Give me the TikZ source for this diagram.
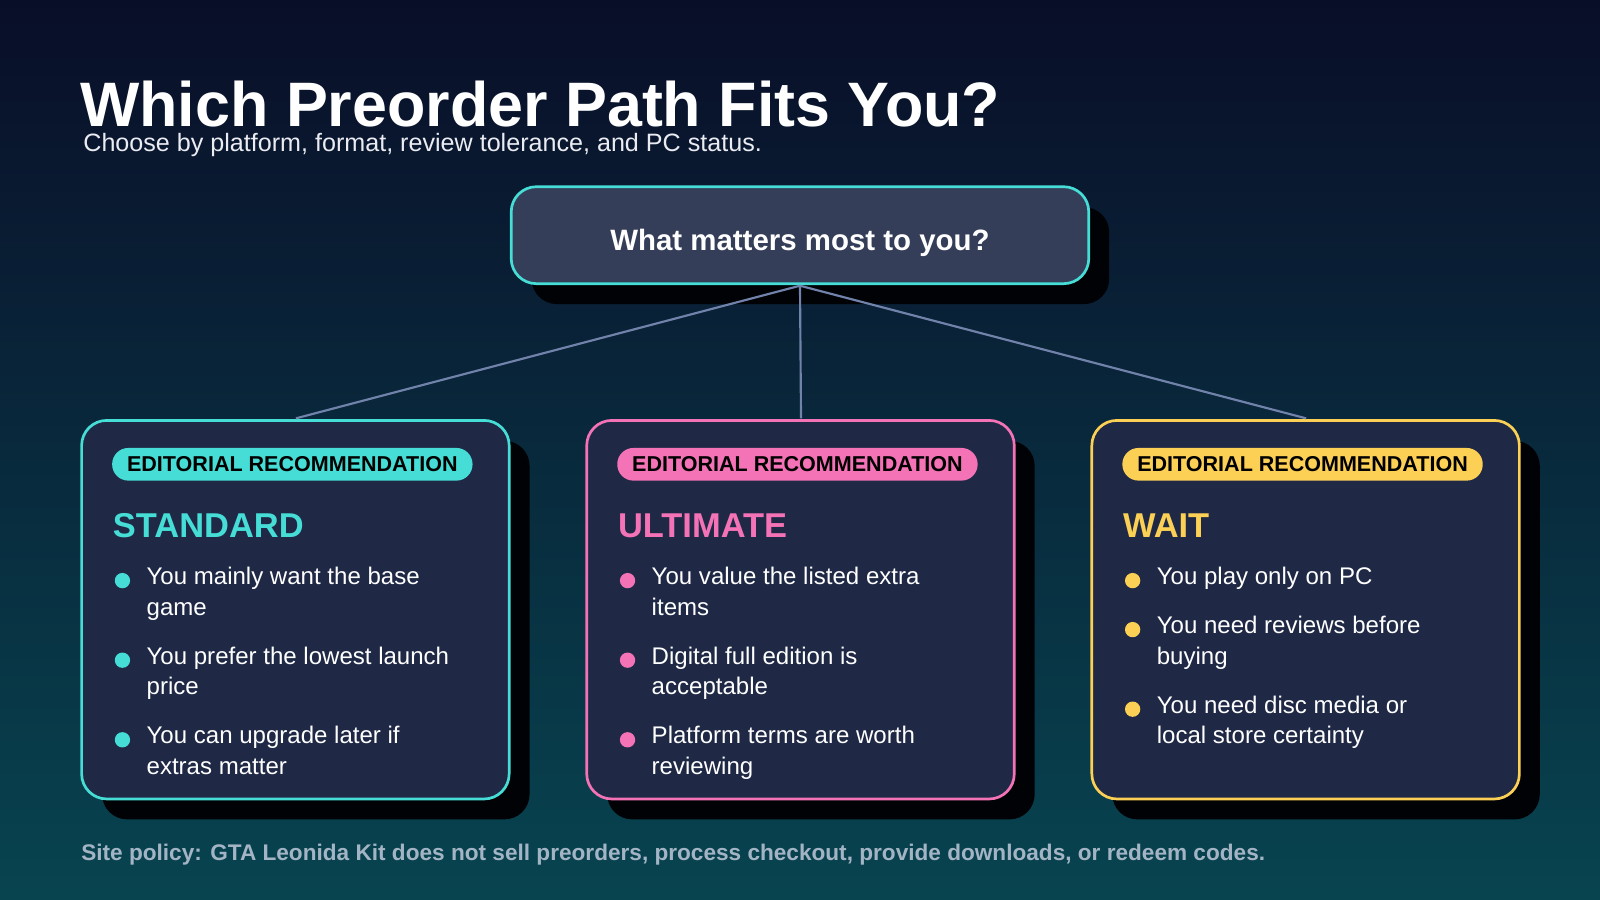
\documentclass[tikz,border=0pt]{standalone}
\usepackage{fontspec}
\setmainfont{Liberation Sans}
\usetikzlibrary{positioning}
\definecolor{bgtop}{HTML}{090E28}
\definecolor{bgbot}{HTML}{084450}
\definecolor{cardfill}{HTML}{1F2946}
\definecolor{cstd}{HTML}{45DDD5}
\definecolor{cult}{HTML}{F472B6}
\definecolor{cwait}{HTML}{FCCF55}
\definecolor{link}{HTML}{7183AA}
\definecolor{foot}{HTML}{A3B4C4}
\newcommand{\pxu}{pt*0.2845}
\tikzset{
  card/.style={draw=#1, line width=0.75pt, fill=cardfill, rounded corners=7pt},
  shadow/.style={fill=black!85!bgtop, rounded corners=7pt},
  pill/.style={fill=#1, rounded corners=4.5pt, minimum width=353\pxu, minimum height=32\pxu,
    inner sep=0pt, font=\fontsize{6}{7}\selectfont\bfseries, text=black},
  heading/.style={text=#1, anchor=west, inner sep=0pt, font=\fontsize{9.6}{11}\selectfont\bfseries},
  dot/.style={circle, fill=#1, minimum size=15\pxu, inner sep=0pt},
  item/.style={anchor=north west, align=left, inner sep=0pt, text=white,
    font=\fontsize{6.7}{8.6}\selectfont},
  link/.style={draw=link, line width=0.6pt}
}
\begin{document}
\begin{tikzpicture}[x=0.01cm, y=-0.01cm]
  \shade [top color=bgtop, bottom color=bgbot] (0,0) rectangle (1568,882);
  \useasboundingbox (0,0) rectangle (1568,882);

  \node [anchor=west, inner sep=0pt, text=white, font=\fontsize{17.5}{20}\selectfont\bfseries] (title) at (78,102) {Which Preorder Path Fits You?};
  \node [anchor=west, inner sep=0pt, text=white!85!link, font=\fontsize{7}{8}\selectfont] (sub) at (81,142) {Choose by platform, format, review tolerance, and PC status.};

  % Frage
  \fill [shadow] (521,203) rectangle (1087,298);
  \draw [card=cstd, fill=cardfill!90!white] (501,183) rectangle (1067,278);
  \node [text=white, font=\fontsize{8.2}{9}\selectfont\bfseries] (q) at (784,238) {What matters most to you?};
  \coordinate (qb) at (784,280);

  % Karten
  \foreach \x/\c/\h [count=\i] in {80/cstd/STANDARD, 575/cult/ULTIMATE, 1070/cwait/WAIT} {
    \fill [shadow] (\x+20,432) rectangle (\x+439,803);
    \draw [card=\c] (\x,412) rectangle (\x+419,783);
    \node [pill=\c] (p\i) at (\x+206.5,455) {EDITORIAL RECOMMENDATION};
    \node [heading=\c] (h\i) at (\x+30,515) {\h};
    \coordinate (t\i) at (\x+210,410);
  }

  \path [link] (qb) -- (t1);
  \path [link] (qb) -- (t2);
  \path [link] (qb) -- (t3);

  % Standard
  \node [dot=cstd] (d11) at (120,569) {};
  \node [item] (i11) at (143,555) {You mainly want the base\\game};
  \node [dot=cstd] (d12) at (120,647) {};
  \node [item] (i12) at (143,633) {You prefer the lowest launch\\price};
  \node [dot=cstd] (d13) at (120,725) {};
  \node [item] (i13) at (143,711) {You can upgrade later if\\extras matter};

  % Ultimate
  \node [dot=cult] (d21) at (615,569) {};
  \node [item] (i21) at (638,555) {You value the listed extra\\items};
  \node [dot=cult] (d22) at (615,647) {};
  \node [item] (i22) at (638,633) {Digital full edition is\\acceptable};
  \node [dot=cult] (d23) at (615,725) {};
  \node [item] (i23) at (638,711) {Platform terms are worth\\reviewing};

  % Wait
  \node [dot=cwait] (d31) at (1110,569) {};
  \node [item] (i31) at (1133,555) {You play only on PC};
  \node [dot=cwait] (d32) at (1110,617) {};
  \node [item] (i32) at (1133,603) {You need reviews before\\buying};
  \node [dot=cwait] (d33) at (1110,695) {};
  \node [item] (i33) at (1133,681) {You need disc media or\\local store certainty};

  \node [anchor=west, inner sep=0pt, text=foot, font=\fontsize{6.3}{7}\selectfont\bfseries] (policy) at (79,838) {Site policy: GTA Leonida Kit does not sell preorders, process checkout, provide downloads, or redeem codes.};
\end{tikzpicture}
\end{document}
